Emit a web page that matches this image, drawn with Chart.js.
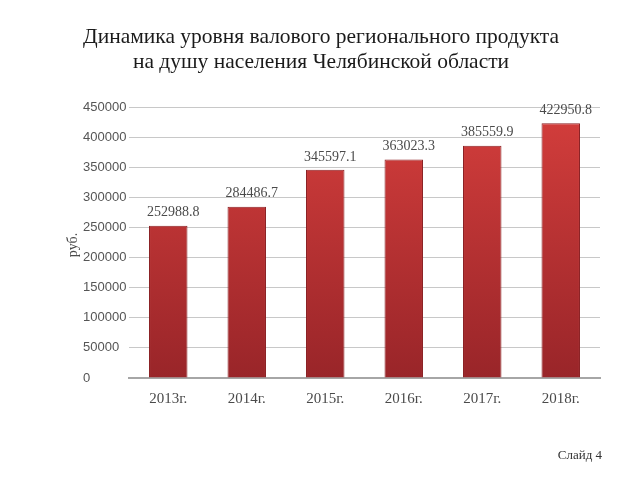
<!DOCTYPE html>
<html>
<head>
<meta charset="utf-8">
<script src="https://cdn.jsdelivr.net/npm/chart.js@4/dist/chart.umd.min.js"></script>
<style>
  html, body { margin: 0; padding: 0; background: #fff; }
</style>
</head>
<body>
<canvas id="grpChart" width="640" height="480"></canvas>
<script>
// данные
const years = ['2013г.', '2014г.', '2015г.', '2016г.', '2017г.', '2018г.'];
const grpValues = [252988.8, 284486.7, 345597.1, 363023.3, 385559.9, 422950.8];
const valueLabels = ['252988.8', '284486.7', '345597.1', '363023.3', '385559.9', '422950.8'];
const titleLines = ['Динамика уровня валового регионального продукта', 'на душу населения Челябинской области'];

// заголовок, подпись оси, подписи значений и номер слайда
const extrasPlugin = {
    id: 'extras',
    afterDatasetsDraw(chart) {
        const ctx = chart.ctx;
        ctx.save();
        ctx.fillStyle = '#1a1a1a';
        ctx.textAlign = 'center';
        ctx.textBaseline = 'middle';
        ctx.font = '21.5px "Liberation Serif", serif';
        ctx.fillText(titleLines[0], 321, 37);
        ctx.fillText(titleLines[1], 321, 62);

        ctx.fillStyle = '#4a4a4a';
        ctx.font = '14px "Liberation Serif", serif';
        const meta = chart.getDatasetMeta(0);
        meta.data.forEach((bar, i) => {
            ctx.fillText(valueLabels[i], bar.x + 5, bar.y - 13);
        });

        // руб.
        ctx.save();
        ctx.translate(73, 245);
        ctx.rotate(-Math.PI / 2);
        ctx.fillText('руб.', 0, 0);
        ctx.restore();

        ctx.fillStyle = '#333';
        ctx.textAlign = 'right';
        ctx.font = '13px "Liberation Serif", serif';
        ctx.fillText('Слайд 4', 602, 456);
        ctx.restore();
    }
};

const ctx = document.getElementById('grpChart').getContext('2d');
const grpChart = new Chart(ctx, {
    type: 'bar',
    data: {
        labels: years,
        datasets: [{
            data: grpValues,
            backgroundColor: function(c) {
                const area = c.chart.chartArea;
                if (!area) return '#c33';
                const g = c.chart.ctx.createLinearGradient(0, area.top, 0, area.bottom);
                g.addColorStop(0, '#d43e3c');
                g.addColorStop(1, '#992529');
                return g;
            },
            borderColor: '#8a1f22',
            borderWidth: 1,
            barPercentage: 0.49,
            categoryPercentage: 1
        }]
    },
    options: {
        responsive: false,
        animation: false,
        layout: { padding: { left: 83, right: 40, top: 107, bottom: 72 } },
        plugins: {
            legend: { display: false },
            tooltip: { enabled: false }
        },
        scales: {
            x: {
                grid: { display: false },
                border: { color: '#a6a6a6', width: 2 },
                ticks: {
                    color: '#4a4a4a',
                    padding: 4,
                    font: { family: '"Liberation Serif", serif', size: 15 }
                },
                afterFit(scale) { scale.height = 30; }
            },
            y: {
                min: 0,
                max: 450000,
                ticks: {
                    stepSize: 50000,
                    color: '#555',
                    crossAlign: 'far',
                    callback: (v) => String(v),
                    font: { family: '"Liberation Sans", sans-serif', size: 13 }
                },
                grid: { color: '#c8c8c8', drawTicks: false },
                border: { display: false },
                afterFit(scale) { scale.width = 46; }
            }
        }
    },
    plugins: [extrasPlugin]
});
</script>
</body>
</html>
